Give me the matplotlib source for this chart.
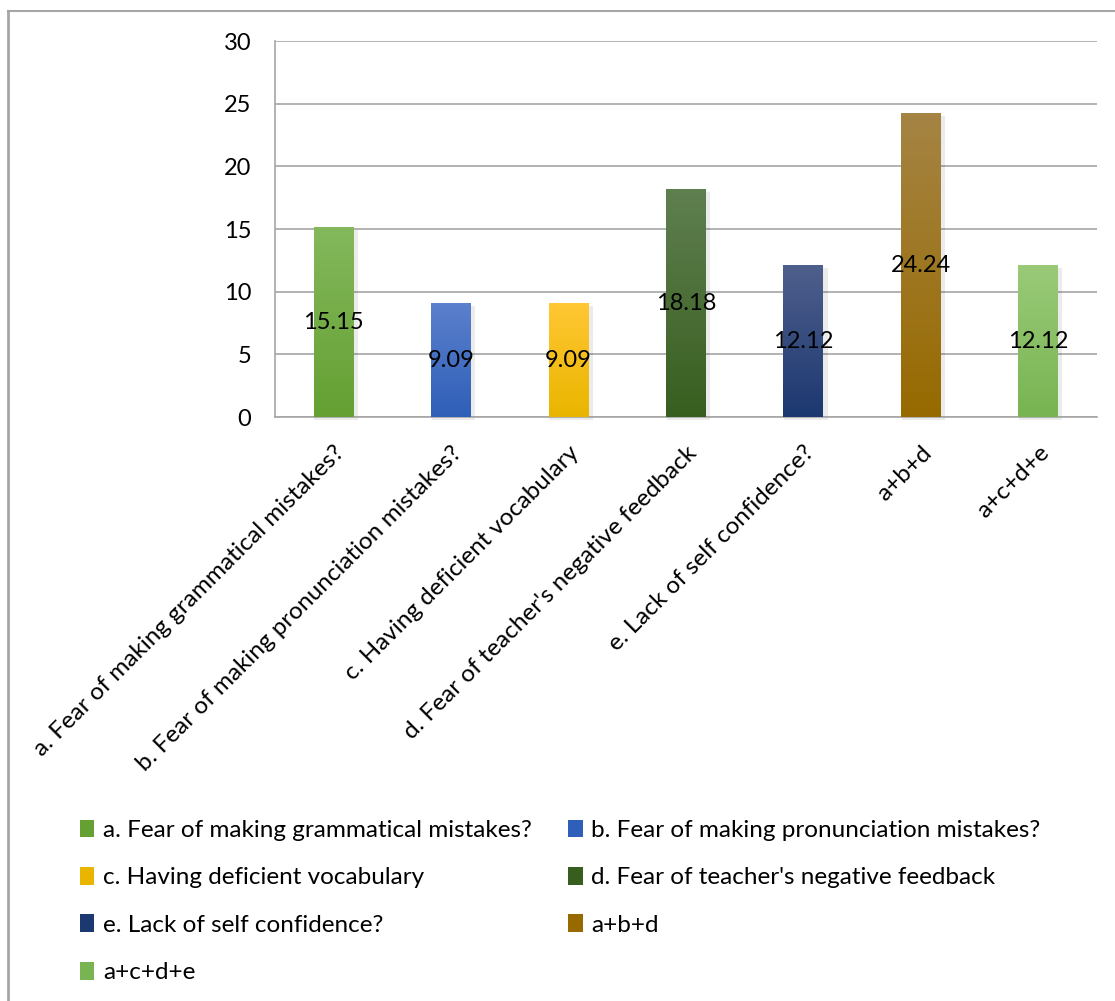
import matplotlib
matplotlib.use("Agg")
import matplotlib.pyplot as plt
from matplotlib.patches import Patch
from matplotlib.lines import Line2D
import numpy as np

plt.rcParams['font.family'] = ['Lato', 'DejaVu Sans']

# data
categories = ["a. Fear of making grammatical mistakes?",
              "b. Fear of making pronunciation mistakes?",
              "c. Having deficient vocabulary",
              "d. Fear of teacher's negative feedback",
              "e. Lack of self confidence?",
              "a+b+d",
              "a+c+d+e"]
values = [15.15, 9.09, 9.09, 18.18, 12.12, 24.24, 12.12]
# (top colour, bottom colour) for the gradient fill
top_colors = ["#84b85c", "#5b80cc", "#ffc733", "#5f7f50", "#4f5f8c", "#a58444", "#9aca78"]
bottom_colors = ["#64a032", "#2f5fb8", "#eab500", "#385e1f", "#1c3870", "#976a00", "#78b452"]

fig = plt.figure(figsize=(11.15, 10.01), dpi=100)
ax = fig.add_axes([0.2466, 0.5834, 0.7373, 0.3756])

x = np.arange(len(categories))
bars = ax.bar(x, values, width=0.34, color=bottom_colors, zorder=3)

# vertical gradient on each bar, plus a soft shadow
for b, c1, c2 in zip(bars, top_colors, bottom_colors):
    r1 = np.array(matplotlib.colors.to_rgb(c1))
    r2 = np.array(matplotlib.colors.to_rgb(c2))
    t = np.linspace(0, 1, 100)[:, None]
    grad = (r1 * (1 - t) + r2 * t)[:, None, :]
    x0, y0 = b.get_x(), b.get_y()
    im = ax.imshow(grad, extent=[x0, x0 + b.get_width(), y0, y0 + b.get_height()],
                   aspect='auto', zorder=4, origin='upper')
    im.set_clip_path(b)
    ax.bar(b.get_x() + b.get_width() / 2 + 0.02, b.get_height(), width=b.get_width() + 0.03,
           bottom=-0.25, color='#00000014', zorder=2, clip_on=False)

for xi, v in zip(x, values):
    ax.text(xi, v / 2, f"{v:.2f}", ha='center', va='center', fontsize=17, zorder=5)

ax.set_xlim(-0.5, len(categories) - 0.5)
ax.set_ylim(0, 30)
ax.set_yticks(range(0, 31, 5))
ax.yaxis.grid(True, color='#a6a6a6', lw=1.2)
ax.set_axisbelow(True)
ax.tick_params(axis='both', length=0)
ax.tick_params(axis='y', labelsize=17, pad=17)
ax.set_xticks(x)
ax.set_xticklabels(categories, rotation=45, ha='right', rotation_mode='anchor', fontsize=17.5)
ax.tick_params(axis='x', pad=18)
for s in ['top', 'right']:
    ax.spines[s].set_visible(False)
for s in ['left', 'bottom']:
    ax.spines[s].set_color('#a6a6a6')
    ax.spines[s].set_linewidth(1.2)

# legend is filled row by row in the reference
order = [0, 2, 4, 6, 1, 3, 5]
handles = [Patch(facecolor=bottom_colors[i]) for i in order]
labels = [categories[i] for i in order]
fig.legend(handles, labels, ncol=2, loc='upper left', bbox_to_anchor=(0.052, 0.203),
           frameon=False, fontsize=17.5, handlelength=0.6, handleheight=0.75,
           handletextpad=0.35, columnspacing=1.5, labelspacing=1.07)

# outer chart frame (left and top edges)
fig.add_artist(Line2D([0.0075, 0.0075], [0, 0.989], color='#a6a6a6', lw=2))
fig.add_artist(Line2D([0.0075, 1], [0.989, 0.989], color='#a6a6a6', lw=1.5))

fig.savefig("out.png", dpi=100)
